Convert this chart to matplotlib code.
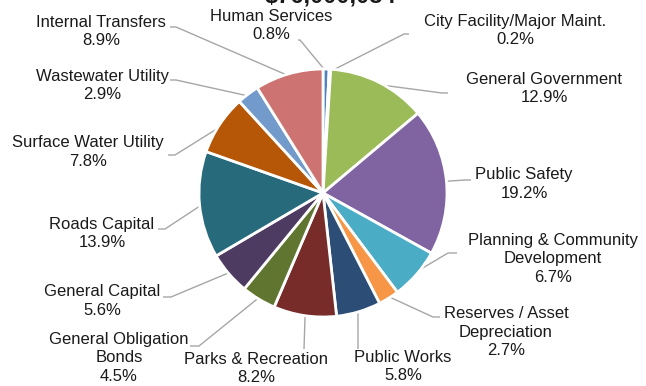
import matplotlib.pyplot as plt
import numpy as np

# slices, clockwise from 12 o'clock
categories = [
    "Human Services", "City Facility/Major Maint.", "General Government",
    "Public Safety", "Planning & Community\nDevelopment",
    "Reserves / Asset\nDepreciation", "Public Works", "Parks & Recreation",
    "General Obligation\nBonds", "General Capital", "Roads Capital",
    "Surface Water Utility", "Wastewater Utility", "Internal Transfers",
]
shares = [0.8, 0.2, 12.9, 19.2, 6.7, 2.7, 5.8, 8.2, 4.5, 5.6, 13.9, 7.8, 2.9, 8.9]
colors = [
    "#4F81BD", "#C0504D", "#9BBB59", "#8064A2", "#4BACC6", "#F79646",
    "#2C4D75", "#772C2A", "#5F7530", "#4D3B62", "#276A7C", "#B65708",
    "#729ACA", "#CD7371",
]
title = "$76,000,034"

W, H = 646, 386
CX, CY, R = 323, 193, 124

# label block centres and leader tail/knee points, image pixel coords (y down)
label_pos = [(271, 25.5), (515, 30.5), (544, 88.5), (524, 184), (553, 259),
             (506, 332), (403, 366.5), (256, 368.5), (119, 358), (102, 301),
             (102, 233.5), (88, 152), (102, 85.5), (101, 31.5)]
leader = [((298, 40), (300, 40)), ((409, 34), (404, 34)), ((448, 93), (442, 93)),
          ((471, 180), (465, 180)), ((457, 253), (448, 253)),
          ((440, 317), (433, 317)), ((358, 349), (358, 349)),
          ((304, 349), (304, 349)), ((190, 346), (199, 346)),
          ((163, 297), (171, 297)), ((158, 229), (165, 229)),
          ((168, 155), (175, 155)), ((170, 80), (176, 80)),
          ((170, 27), (176, 27))]

plt.rcParams['font.family'] = ['Liberation Sans', 'DejaVu Sans']

fig = plt.figure(figsize=(W / 100, H / 100), dpi=100)
ax = fig.add_axes([0, 0, 1, 1])

wedges, _ = ax.pie(shares, colors=colors, startangle=90, counterclock=False,
                   radius=R, center=(CX, CY),
                   wedgeprops=dict(edgecolor="white", linewidth=2))
ax.set_xlim(0, W)
ax.set_ylim(0, H)
ax.set_aspect('equal')
ax.axis('off')

for w, name, v, (lx, ly), (tail, knee) in zip(wedges, categories, shares,
                                              label_pos, leader):
    mid = np.deg2rad((w.theta1 + w.theta2) / 2)
    ex = CX + 0.98 * R * np.cos(mid)
    ey = CY + 0.98 * R * np.sin(mid)
    ax.plot([tail[0], knee[0], ex], [H - tail[1], H - knee[1], ey],
            color="#A6A6A6", lw=1, solid_capstyle='butt', zorder=0.5)
    ax.text(lx, H - ly, f"{name}\n{v:.1f}%", ha="center", va="center",
            fontsize=12, color="#1a1a1a", linespacing=1.32)

# title sits mostly above the visible area, as in the source
ax.text(330, H - 2, title, ha="center", va="baseline", fontsize=17,
        fontweight="bold", color="#1a1a1a")

fig.savefig("out.png", dpi=100, facecolor="white")
